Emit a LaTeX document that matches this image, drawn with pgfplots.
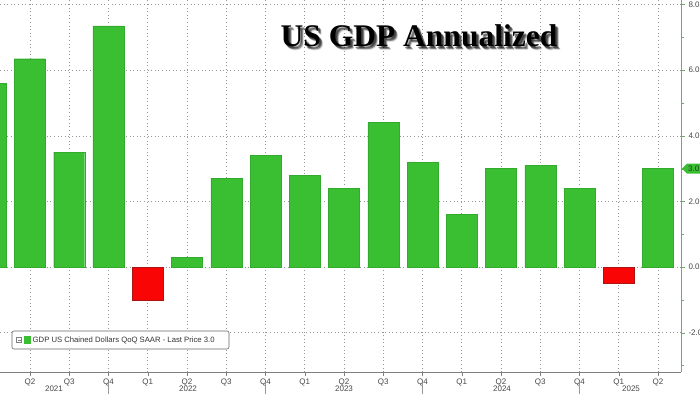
\documentclass[border=0pt]{standalone}
\usepackage{fontspec}
\setmainfont{Liberation Sans}
\newfontfamily\titlefont{Liberation Serif}
\usepackage{pgfplots}
\pgfplotsset{compat=1.18}
\definecolor{barG}{RGB}{58,190,50}
\definecolor{barGd}{RGB}{50,170,45}
\definecolor{barR}{RGB}{250,5,5}
\definecolor{barRd}{RGB}{170,20,20}
\definecolor{gridc}{RGB}{150,150,150}
\definecolor{raxis}{RGB}{110,170,110}
\definecolor{labc}{RGB}{70,70,70}
\begin{document}
\begin{tikzpicture}[x=1pt,y=1pt]
\useasboundingbox (0,0) rectangle (700,394);
\begin{axis}[
  at={(0pt,22pt)}, anchor=south west,
  scale only axis, width=681pt, height=372pt,
  xmin=0.236, xmax=17.585, ymin=-3.2, ymax=8.14,
  axis x line*=bottom, axis y line*=right,
  axis line style={-},
  x axis line style={draw=gray},
  y axis line style={draw=raxis},
  xtick={1,...,17},
  xticklabels={Q2,Q3,Q4,Q1,Q2,Q3,Q4,Q1,Q2,Q3,Q4,Q1,Q2,Q3,Q4,Q1,Q2},
  ytick={-2,0,2,4,6,8},
  minor ytick={-3,-1,1,3,5,7},
  yticklabel pos=right,
  yticklabel style={/pgf/number format/.cd,fixed,fixed zerofill,precision=1,/tikz/.cd, font=\fontsize{8}{9}\selectfont, text=labc},
  xticklabel style={font=\fontsize{8}{9}\selectfont, text=labc, yshift=1pt},
  /pgf/number format/assume math mode=true,
  x tick style={draw=gray},
  y tick style={draw=raxis},
  tick align=outside,
  major tick length=4pt, minor tick length=3pt,
  xmajorgrids, ymajorgrids,
  grid style={draw=gridc, line width=0.6pt, dash pattern=on 0.8pt off 2.8pt},
]
\addplot[ybar, bar width=31pt, bar shift=0pt, fill=barG, draw=barGd, line width=0.4pt] coordinates {
(0,5.6) (1,6.35) (2,3.5) (3,7.35) (5,0.3) (6,2.7) (7,3.4) (8,2.8) (9,2.4) (10,4.4) (11,3.2) (12,1.6) (13,3.0) (14,3.1) (15,2.4) (17,3.0)};
\addplot[ybar, bar width=31pt, bar shift=0pt, fill=barR, draw=barRd, line width=0.4pt] coordinates {
(4,-1.0) (16,-0.5)};
\coordinate (tag) at (axis cs:17.585,3.0);
\end{axis}
% last price tag
\fill[barG] ([xshift=1pt]tag) -- ++(5,5) -- ++(20,0) -- ++(0,-10) -- ++(-20,0) -- cycle;
\node[anchor=west, inner sep=0pt, font=\fontsize{8}{9}\selectfont, text=black!80] at ([xshift=7pt]tag) {3.0};
% year labels
\foreach \x/\t in {54/2021,188/2022,344/2023,502/2024,631/2025}
  \node[font=\fontsize{8}{9}\selectfont, text=labc, inner sep=0pt] at (\x,5) {\t};
\foreach \x in {108.5,265.5,422.5,579.5}
  \draw[gray!80, line width=0.6pt] (\x,0) -- (\x,11);
% legend
\draw[fill=white, draw=black!60, rounded corners=2pt, line width=0.6pt] (12,45) rectangle (229,63);
\draw[gray, line width=0.4pt] (16.5,51.5) rectangle (21.5,56.5);
\draw[gray, line width=0.4pt] (17.5,54) -- (20.5,54);
\fill[barG] (23.5,50) rectangle (31,58);
\node[anchor=west, inner sep=0pt, font=\fontsize{7.7}{9}\selectfont, text=black!80] at (32.5,54) {GDP US Chained Dollars QoQ SAAR - Last Price 3.0};
% title
\foreach \dx/\dy/\op in {3/-3/0.22,2.5/-2.5/0.28,2/-2/0.3,3.5/-3.5/0.15,1.5/-1.5/0.2}
  \node[anchor=base, inner sep=0pt, font=\titlefont\bfseries\fontsize{31.5}{34}\selectfont, text=black, opacity=\op] at (419+\dx,347+\dy) {US GDP Annualized};
\node[anchor=base, inner sep=0pt, font=\titlefont\bfseries\fontsize{31.5}{34}\selectfont, text=black] at (419,347) {US GDP Annualized};
\end{tikzpicture}
\end{document}
